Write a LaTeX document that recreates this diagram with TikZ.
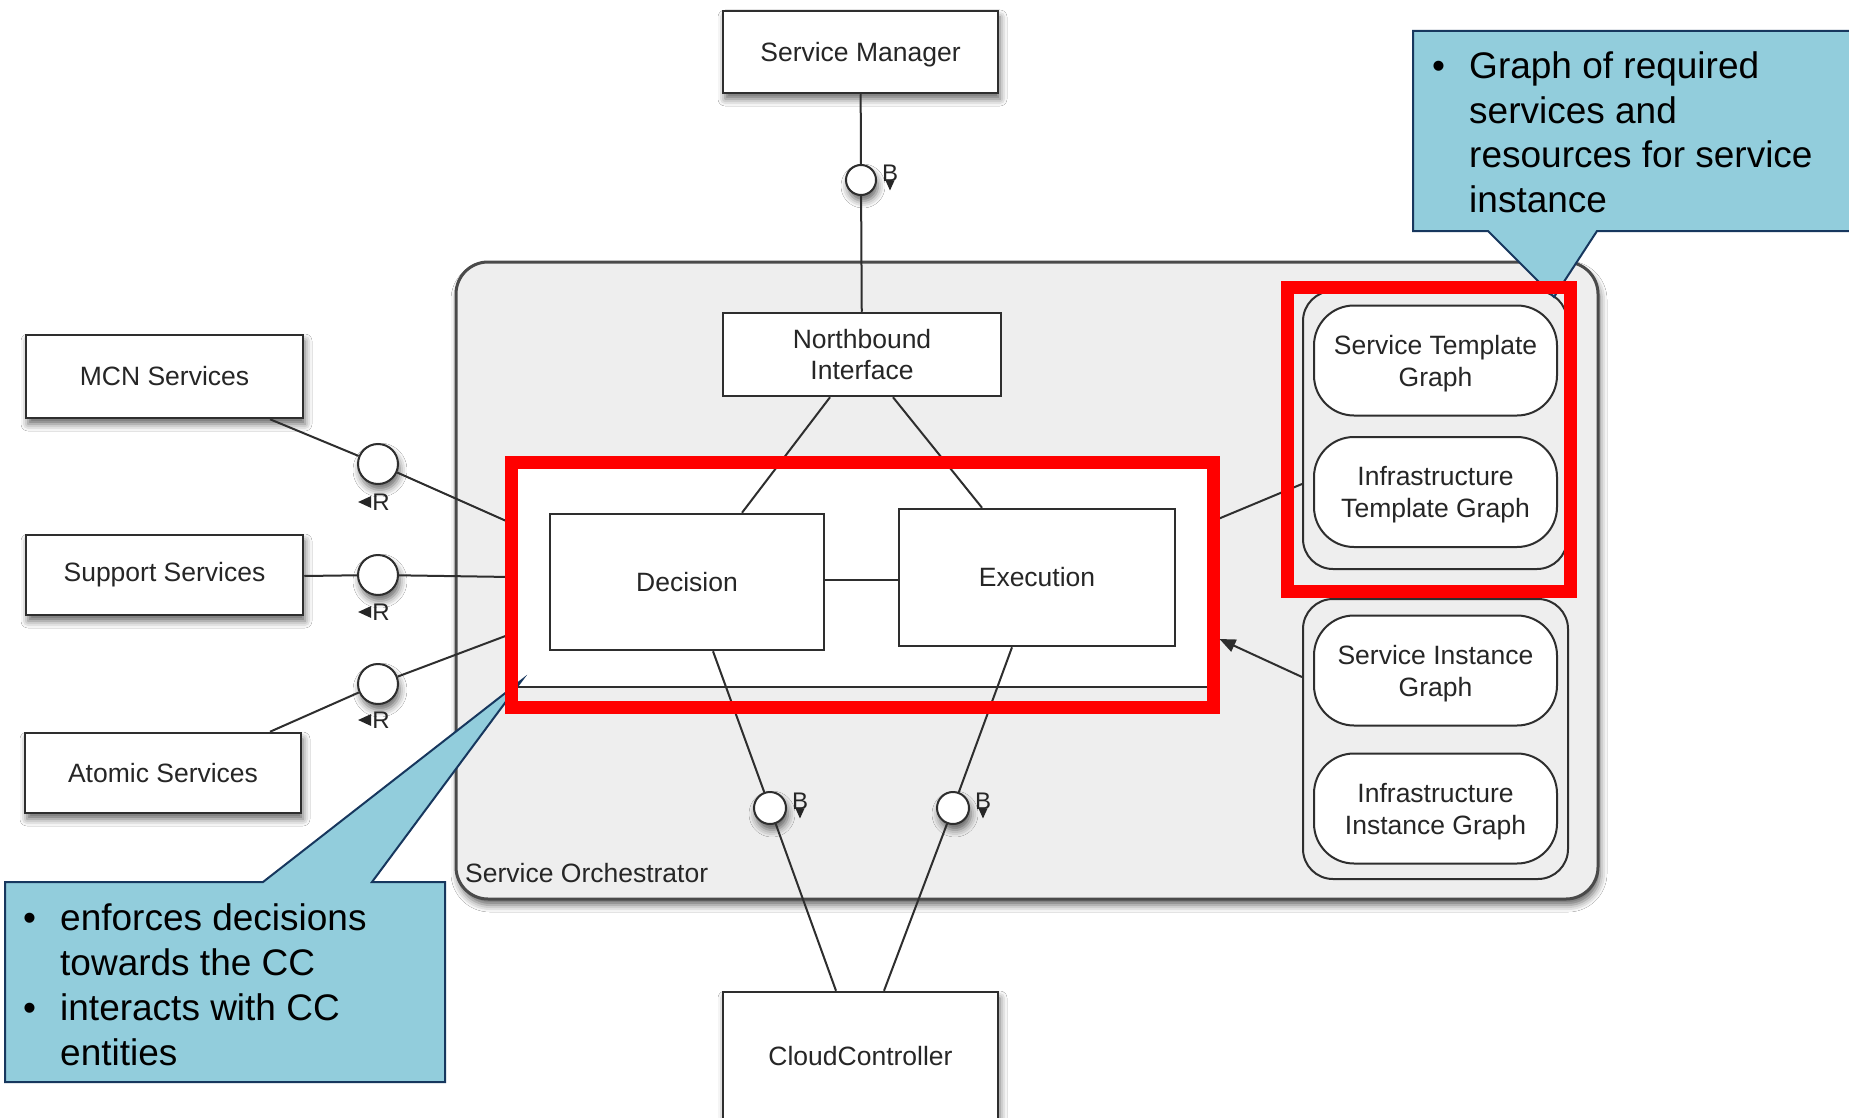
\documentclass[tikz,border=0pt]{standalone}
\usepackage{fontspec}
\setmainfont{Liberation Sans}
\usetikzlibrary{arrows.meta,shadows.blur}

\definecolor{frame}{HTML}{2E2E2E}
\definecolor{orchline}{HTML}{4A4A4A}
\definecolor{txt}{HTML}{262626}
\definecolor{orchfill}{HTML}{EEEEEE}
\definecolor{calloutfill}{HTML}{92CDDC}
\definecolor{calloutline}{HTML}{17375E}
\definecolor{focus}{HTML}{FF0000}

\newcommand{\diagfont}{\fontsize{26.5}{31}\selectfont}
\newcommand{\graphfont}{\fontsize{26.5}{32}\selectfont}
\newcommand{\lblfont}{\fontsize{24}{28}\selectfont}
\newcommand{\notefont}{\fontsize{37}{44}\selectfont}

\tikzset{
  softshadow/.style={blur shadow={shadow xshift=2pt, shadow yshift=-6pt, shadow blur radius=7pt, shadow opacity=60}},
  box/.style={rectangle, draw=frame, line width=2.5pt, fill=white, inner sep=0pt, text=txt, font=\diagfont, align=center},
  orch/.style={rectangle, rounded corners=32pt, draw=orchline, line width=3pt, fill=orchfill, inner sep=0pt},
  holder/.style={rectangle, rounded corners=30pt, draw=frame, line width=2pt, fill=orchfill, inner sep=0pt},
  graphnode/.style={rectangle, rounded corners=40pt, draw=frame, line width=2pt, fill=white, inner sep=0pt, text=txt, font=\graphfont, align=center, text depth=0pt, minimum width=243pt, minimum height=110pt},
  port/.style={circle, draw=frame, line width=2pt, fill=white, inner sep=0pt},
  wire/.style={draw=frame, line width=2pt},
  lbl/.style={inner sep=0pt, text=txt, font=\lblfont},
  focusframe/.style={rectangle, draw=focus, line width=13pt, inner sep=0pt, outer sep=6.5pt},
  callout/.style={fill=calloutfill, draw=calloutline, line width=2pt, line join=miter},
  note/.style={anchor=base west, inner sep=0pt, text=black, font=\notefont},
}

\begin{document}
\begin{tikzpicture}[x=1pt,y=-1pt]
\useasboundingbox (0,0) rectangle (1849,1118);
\clip (0,0) rectangle (1849,1118);
\fill[white] (0,0) rectangle (1849,1118);

% Service Orchestrator container
\node[orch, softshadow, minimum width=1142pt, minimum height=637pt] (so) at (1027,580.5) {};
\node[anchor=base west, inner sep=0pt, text=txt, font=\diagfont] (solabel) at (465,882) {Service Orchestrator};

% outer components
\node[box, softshadow, text depth=0pt, minimum width=275pt, minimum height=82pt] (sm) at (860.5,52) {Service Manager};
\node[box, softshadow, minimum width=277pt, minimum height=83pt] (mcn) at (164.5,376.5) {MCN Services};
\node[box, softshadow, minimum width=277pt, minimum height=80pt] (sup) at (164.5,575) {Support Services};
\node[box, softshadow, minimum width=276pt, minimum height=80pt] (atom) at (163,773) {Atomic Services};
\node[box, softshadow, minimum width=275pt, minimum height=128pt] (cc) at (860.5,1056) {CloudController};

% inner components
\node[box, minimum width=278pt, minimum height=83pt] (nb) at (862,354.5) {Northbound\\Interface};
\node[box, minimum width=700pt, minimum height=224pt] (comp) at (862,575) {};
\node[box, minimum width=274pt, minimum height=136pt] (dec) at (687,582) {Decision};
\node[box, minimum width=276pt, minimum height=137pt] (exe) at (1037,577.5) {Execution};

% graph stores
\node[holder, minimum width=264pt, minimum height=278pt] (tg) at (1435,430) {};
\node[holder, minimum width=265pt, minimum height=280pt] (ig) at (1435.5,739) {};
\node[graphnode] (stg) at (1435.5,360.5) {Service Template\\Graph};
\node[graphnode] (itg) at (1435.5,492) {Infrastructure\\Template Graph};
\node[graphnode] (sig) at (1435.5,670.5) {Service Instance\\Graph};
\node[graphnode] (iig) at (1435.5,808.5) {Infrastructure\\Instance Graph};

% interface ports
\node[port, softshadow, minimum size=30pt] (csm) at (861,180) {};
\node[port, softshadow, minimum size=40pt] (cmcn) at (378,464) {};
\node[port, softshadow, minimum size=40pt] (csup) at (378,575) {};
\node[port, softshadow, minimum size=40pt] (catom) at (378,684) {};
\node[port, softshadow, minimum size=32pt] (cdec) at (770,808) {};
\node[port, softshadow, minimum size=32pt] (cexe) at (953,808) {};

% connectors
\draw[wire] (sm) -- (csm) -- (nb);
\draw[wire] (270,0 |- mcn.south) -- (cmcn) -- (comp.west |- 0,523);
\draw[wire] (sup.east |- 0,576) -- (csup) -- (comp.west |- 0,577);
\draw[wire] (270,0 |- atom.north) -- (catom) -- (comp.west |- 0,634);
\draw[wire] (830,0 |- nb.south) -- (742,0 |- dec.north);
\draw[wire] (893,0 |- nb.south) -- (982,0 |- exe.north);
\draw[wire] (dec.east |- 0,580) -- (exe.west |- 0,580);
\draw[wire] (713,0 |- dec.south) -- (cdec) -- (836,0 |- cc.north);
\draw[wire] (1012,0 |- exe.south) -- (cexe) -- (884,0 |- cc.north);
\draw[wire] (tg.west |- 0,484) -- (comp.east |- 0,521);

% port labels
\node[lbl] (lbsm) at (890,173) {B};
\fill[txt] (lbsm.south) ++(-4.5,-1) -- ++(9,0) -- ++(-4.5,10) -- cycle;
\node[lbl] (lbdec) at (800,801) {B};
\fill[txt] (lbdec.south) ++(-4.5,-1) -- ++(9,0) -- ++(-4.5,10) -- cycle;
\node[lbl] (lbexe) at (983,801) {B};
\fill[txt] (lbexe.south) ++(-4.5,-1) -- ++(9,0) -- ++(-4.5,10) -- cycle;
\node[lbl] (lrmcn) at (381,502) {R};
\fill[txt] (lrmcn.west) ++(-1,-6) -- ++(0,12) -- ++(-13,-6) -- cycle;
\node[lbl] (lrsup) at (381,612) {R};
\fill[txt] (lrsup.west) ++(-1,-6) -- ++(0,12) -- ++(-13,-6) -- cycle;
\node[lbl] (lratom) at (381,720) {R};
\fill[txt] (lratom.west) ++(-1,-6) -- ++(0,12) -- ++(-13,-6) -- cycle;

% callout: graph stores
\filldraw[callout] (1413,31) -- (1860,31) -- (1860,231) -- (1597,231) -- (1554,297) -- (1488,231) -- (1413,231) -- cycle;
\node[note] (nb1) at (1432,79) {•};
\node[note] (nt1) at (1469,79) {Graph of required};
\node[note] (nt2) at (1469,123.5) {services and};
\node[note] (nt3) at (1469,168) {resources for service};
\node[note] (nt4) at (1469,212) {instance};

% callout: execution
\filldraw[callout] (5,882) -- (263,882) -- (522,680) -- (372,882) -- (445,882) -- (445,1082) -- (5,1082) -- cycle;
\node[note] (eb1) at (23,930) {•};
\node[note] (et1) at (60,930) {enforces decisions};
\node[note] (et2) at (60,975) {towards the CC};
\node[note] (eb2) at (23,1020) {•};
\node[note] (et3) at (60,1020) {interacts with CC};
\node[note] (et4) at (60,1065) {entities};

% highlight frames
\node[focusframe, minimum width=702pt, minimum height=245pt] (focusL) at (862,584.5) {};
\node[focusframe, minimum width=283pt, minimum height=304pt] (focusR) at (1428.5,439) {};

% instance graphs feed the core
\draw[wire, -{Triangle[length=16pt,width=13pt]}] (ig.west |- 0,677) -- (focusL.east |- 0,639);
\end{tikzpicture}
\end{document}
